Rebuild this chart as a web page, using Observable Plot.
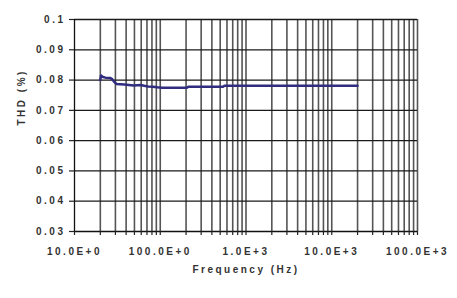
<!DOCTYPE html>
<html>
<head>
<meta charset="utf-8">
<script src="https://cdn.jsdelivr.net/npm/d3@7"></script>
<script src="https://cdn.jsdelivr.net/npm/@observablehq/plot@0.6"></script>
<style>
  html, body { margin: 0; padding: 0; background: #fff; }
</style>
</head>
<body>
<div id="chart"></div>
<script>
// Frequency (Hz) of each measured point
const freq = [20, 20.4, 21.5, 23, 26, 27.5, 29, 31, 34, 38, 43, 49, 54, 59, 65, 72, 82, 92, 105, 130, 170, 205, 215, 300, 540, 560, 1000, 2000, 5000, 10000, 20000];
// THD (%) at each frequency
const thd = [0.0801, 0.0815, 0.0810, 0.0808, 0.0807, 0.0803, 0.0794, 0.0787, 0.0786, 0.0785, 0.0784, 0.0782, 0.0783, 0.0784, 0.0781, 0.0779, 0.0778, 0.0776, 0.0775, 0.0775, 0.0775, 0.0775, 0.0778, 0.0778, 0.0778, 0.0781, 0.0781, 0.0781, 0.0781, 0.0781, 0.0781];

// Axis ticks and labels
const xDecades = [10, 100, 1000, 10000, 100000];
const xTickLabels = ["10.0E+0", "100.0E+0", "1.0E+3", "10.0E+3", "100.0E+3"];
const xMultiples = [1, 2, 3, 4, 5, 6, 7, 8, 9];
const yTicks = [0.03, 0.04, 0.05, 0.06, 0.07, 0.08, 0.09, 0.1];
const yTickLabels = ["0.03", "0.04", "0.05", "0.06", "0.07", "0.08", "0.09", "0.1"];
const xTitle = "Frequency (Hz)";
const yTitle = "THD (%)";

const data = freq.map((f, i) => ({f, v: thd[i]}));
const xGrid = xDecades.slice(0, -1).flatMap(d => xMultiples.map(m => d * m)).concat([100000]);
const xLabelOf = d => xTickLabels[xDecades.findIndex(t => Math.abs(t - d) < 1e-6 * t)];
const yLabelOf = d => yTickLabels[yTicks.findIndex(t => Math.abs(t - d) < 1e-9)];

const chart = Plot.plot({
  width: 457,
  height: 298,
  marginLeft: 74,
  marginRight: 40,
  marginTop: 19,
  marginBottom: 67,
  style: {
    fontFamily: "'Liberation Sans', Arial, sans-serif",
    fontSize: "10px",
    fontWeight: "bold",
    letterSpacing: "2.5px",
    color: "#333",
    background: "#fff"
  },
  x: {type: "log", domain: [10, 100000]},
  y: {domain: [0.03, 0.1]},
  marks: [
    // vertical grid lines
    Plot.ruleX(xGrid.filter(d => d > 10), {y1: 0.03, y2: 0.1, stroke: "#555", strokeWidth: 1.6, strokeOpacity: 1}),
    // horizontal grid lines
    Plot.ruleY(yTicks.filter(d => d > 0.03), {x1: 10, x2: 100000, stroke: "#1a1a1a", strokeWidth: 1.3}),
    // axis lines
    Plot.ruleX([10], {y1: 0.03, y2: 0.1, stroke: "#111", strokeWidth: 1.3}),
    Plot.ruleY([0.03], {x1: 10, x2: 100000, stroke: "#111", strokeWidth: 1.3}),
    // tick marks
    Plot.axisX({ticks: xGrid, tickSize: 4, tickFormat: () => "", stroke: "#222", strokeWidth: 1.2, label: null}),
    Plot.axisY({ticks: yTicks, tickSize: 5, tickFormat: () => "", stroke: "#222", strokeWidth: 1.2, label: null}),
    // tick labels
    Plot.axisX({ticks: xDecades, tickSize: 0, tickPadding: 16, tickFormat: xLabelOf, fill: "#333", label: null}),
    Plot.axisY({ticks: yTicks, tickSize: 0, tickPadding: 9, tickFormat: yLabelOf, fill: "#333", label: null}),
    // axis titles
    Plot.text([yTitle], {text: d => d, frameAnchor: "left", dx: -53, rotate: -90, fill: "#333"}),
    Plot.text([xTitle], {text: d => d, frameAnchor: "bottom", dy: 41, fill: "#333"}),
    // data line
    Plot.line(data, {x: "f", y: "v", stroke: "#302c7f", strokeWidth: 2.5})
  ]
});
document.getElementById("chart").appendChild(chart);
</script>
</body>
</html>
